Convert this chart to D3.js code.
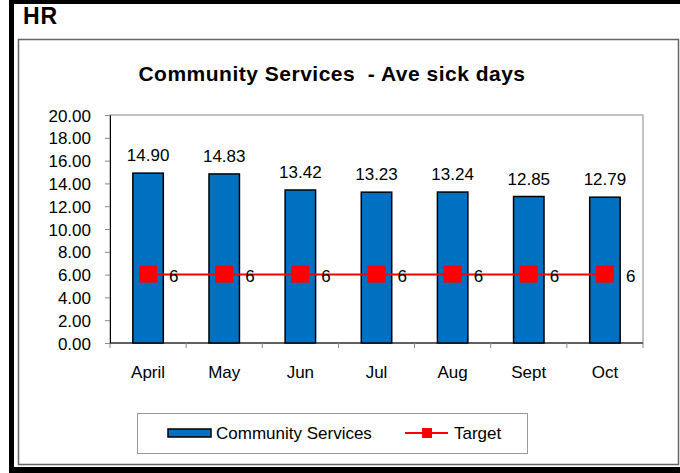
<!DOCTYPE html>
<html>
<head>
<meta charset="utf-8">
<script src="https://cdn.jsdelivr.net/npm/d3@7/dist/d3.min.js"></script>
<style>
  html, body { margin: 0; padding: 0; background: #fff; }
  svg { display: block; font-family: Arial, "Liberation Sans", sans-serif; }
</style>
</head>
<body>
<svg id="chart" width="680" height="473"></svg>
<script>
// Monthly average sick days for Community Services, against a fixed target
const months = ["April", "May", "Jun", "Jul", "Aug", "Sept", "Oct"];
const sickDays = [14.90, 14.83, 13.42, 13.23, 13.24, 12.85, 12.79];
const target = [6, 6, 6, 6, 6, 6, 6];
const yTicks = [0, 2, 4, 6, 8, 10, 12, 14, 16, 18, 20];
const seriesNames = ["Community Services", "Target"];

const FS = 17;
const svg = d3.select("#chart");

// Outer page frame (thick black left/top/bottom edges)
svg.append("rect").attr("x", 9).attr("y", 0).attr("width", 5).attr("height", 473).attr("fill", "#000");
svg.append("rect").attr("x", 9).attr("y", 0).attr("width", 671).attr("height", 4).attr("fill", "#000");
svg.append("rect").attr("x", 9).attr("y", 467).attr("width", 671).attr("height", 6).attr("fill", "#000");

svg.append("text").attr("x", 23).attr("y", 24)
  .attr("font-size", 23).attr("font-weight", "bold").attr("letter-spacing", 1).text("HR");

// Chart area border
svg.append("rect").attr("x", 18.5).attr("y", 39.5).attr("width", 660).attr("height", 425)
  .attr("fill", "none").attr("stroke", "#666").attr("stroke-width", 1.5);

svg.append("text").attr("x", 332).attr("y", 81).attr("text-anchor", "middle")
  .attr("font-size", 21).attr("font-weight", "bold").attr("letter-spacing", 0.5)
  .attr("xml:space", "preserve")
  .text("Community Services  - Ave sick days");

const plot = { left: 110, top: 115, right: 643, bottom: 343 };

const x = d3.scaleBand().domain(months).range([plot.left, plot.right]).paddingInner(0).paddingOuter(0);
const y = d3.scaleLinear().domain([0, 20]).range([plot.bottom, plot.top]);

// Plot frame
svg.append("rect").attr("x", plot.left).attr("y", plot.top)
  .attr("width", plot.right - plot.left).attr("height", plot.bottom - plot.top)
  .attr("fill", "#fff").attr("stroke", "#888").attr("stroke-width", 1);

// Y axis
const yAxis = svg.append("g").attr("transform", `translate(${plot.left},0)`)
  .call(d3.axisLeft(y).tickValues(yTicks).tickFormat(d3.format(".2f")).tickSize(5).tickPadding(14));
yAxis.select(".domain").attr("stroke", "#000");
yAxis.selectAll(".tick line").attr("stroke", "#888");
yAxis.selectAll("text").attr("font-size", FS).attr("fill", "#000").attr("dy", "0.36em")
  .attr("font-family", "Arial, 'Liberation Sans', sans-serif");

// X axis: ticks at category boundaries
const boundaries = months.map(m => x(m)).concat([plot.right]);
const xAxisG = svg.append("g");
xAxisG.append("line").attr("x1", plot.left).attr("x2", plot.right)
  .attr("y1", plot.bottom).attr("y2", plot.bottom).attr("stroke", "#000").attr("stroke-width", 1.2);
xAxisG.selectAll(".bt").data(boundaries).join("line")
  .attr("x1", d => d).attr("x2", d => d)
  .attr("y1", plot.bottom).attr("y2", plot.bottom + 5).attr("stroke", "#888");
xAxisG.selectAll(".xl").data(months).join("text")
  .attr("x", d => x(d) + x.bandwidth() / 2).attr("y", 378)
  .attr("text-anchor", "middle").attr("font-size", FS).text(d => d);

// Bars
const barW = x.bandwidth() * 0.4;
svg.selectAll(".bar").data(months).join("rect")
  .attr("x", (d) => x(d) + x.bandwidth() / 2 - barW / 2)
  .attr("y", (d, i) => y(sickDays[i]))
  .attr("width", barW)
  .attr("height", (d, i) => y(0) - y(sickDays[i]))
  .attr("fill", "#0070C0").attr("stroke", "#000").attr("stroke-width", 1.5);

svg.selectAll(".vl").data(months).join("text")
  .attr("x", d => x(d) + x.bandwidth() / 2)
  .attr("y", (d, i) => y(sickDays[i]) - 12)
  .attr("text-anchor", "middle").attr("font-size", FS)
  .text((d, i) => sickDays[i].toFixed(2));

// Target line with square markers
const line = d3.line().x(d => x(d[0]) + x.bandwidth() / 2).y(d => y(d[1]));
svg.append("path").datum(months.map((m, i) => [m, target[i]]))
  .attr("d", line).attr("fill", "none").attr("stroke", "#FF0000").attr("stroke-width", 2);
svg.selectAll(".mk").data(months).join("rect")
  .attr("x", d => x(d) + x.bandwidth() / 2 - 9)
  .attr("y", (d, i) => y(target[i]) - 9)
  .attr("width", 18).attr("height", 17).attr("fill", "#FF0000");
svg.selectAll(".tl").data(months).join("text")
  .attr("x", d => x(d) + x.bandwidth() / 2 + 21)
  .attr("y", (d, i) => y(target[i]) + 7)
  .attr("font-size", FS).text((d, i) => target[i]);

// Legend
const lg = svg.append("g");
lg.append("rect").attr("x", 137.5).attr("y", 413.5).attr("width", 390).attr("height", 40)
  .attr("fill", "#fff").attr("stroke", "#999").attr("stroke-width", 1);
lg.append("rect").attr("x", 168).attr("y", 429).attr("width", 43).attr("height", 8)
  .attr("fill", "#0070C0").attr("stroke", "#000").attr("stroke-width", 1.5);
lg.append("text").attr("x", 216).attr("y", 439).attr("font-size", FS).text(seriesNames[0]);
lg.append("line").attr("x1", 405).attr("x2", 448).attr("y1", 433).attr("y2", 433)
  .attr("stroke", "#FF0000").attr("stroke-width", 2);
lg.append("rect").attr("x", 422).attr("y", 428).attr("width", 10).attr("height", 10).attr("fill", "#FF0000");
lg.append("text").attr("x", 454).attr("y", 439).attr("font-size", FS).text(seriesNames[1]);
</script>
</body>
</html>
